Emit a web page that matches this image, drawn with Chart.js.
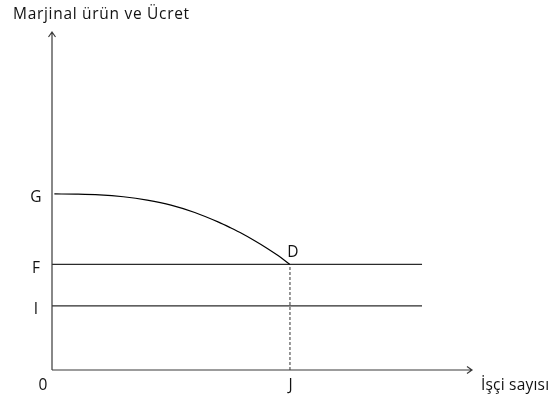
<!DOCTYPE html>
<html lang="tr">
<head>
  <meta charset="UTF-8">
  <title>Marjinal ürün ve Ücret</title>
  <script src="https://cdn.jsdelivr.net/npm/chart.js"></script>
  <style>
    html, body { margin: 0; padding: 0; background: #fff; }
    #wrap { width: 553px; height: 400px; position: relative; }
  </style>
</head>
<body>
<div id="wrap"><canvas id="chart"></canvas></div>
<script>
// marginal product curve (G -> D)
const curveX = [0.1, 1, 2, 3, 4, 5, 6, 7, 7.5, 8, 8.5, 9, 9.5, 10];
const curveY = [10.0, 9.99, 9.95, 9.84, 9.65, 9.37, 8.95, 8.40, 8.08, 7.74, 7.36, 6.95, 6.50, 6.0];

// horizontal wage lines
const levelF = 6.0;
const levelI = 3.64;
const lineEnd = 15.55;
const pointJ = 10;

const yTickValues = [10.0, levelF, levelI];
const yTickLabels = ['G', 'F', 'I'];
const xTickValues = [0, pointJ];
const xTickLabels = ['0', 'J'];

const xMax = 17.65;
const yMax = 19.2;
const yTitle = 'Marjinal ürün ve Ücret';
const xTitle = 'İşçi sayısı';

const FONT = '15.5px "Open Sans", sans-serif';

const pts = (xs, ys) => xs.map((x, i) => ({x: x, y: ys[i]}));

// axes, arrows and all the letters, placed through the chart scales
const sketchPlugin = {
  id: 'sketch',
  afterDatasetsDraw(chart) {
    const ctx = chart.ctx;
    const xs = chart.scales.x, ys = chart.scales.y;
    const x0 = xs.getPixelForValue(0), y0 = ys.getPixelForValue(0);
    const xEnd = xs.getPixelForValue(xMax), yTop = ys.getPixelForValue(yMax);
    ctx.save();
    ctx.strokeStyle = '#3a3a3a';
    ctx.lineWidth = 1.2;
    ctx.beginPath();
    ctx.moveTo(x0, y0); ctx.lineTo(x0, yTop);
    ctx.moveTo(x0, y0); ctx.lineTo(xEnd, y0);
    // open arrow heads
    ctx.moveTo(x0 - 3.5, yTop + 5); ctx.lineTo(x0, yTop); ctx.lineTo(x0 + 3.5, yTop + 5);
    ctx.moveTo(xEnd - 5, y0 - 3.5); ctx.lineTo(xEnd, y0); ctx.lineTo(xEnd - 5, y0 + 3.5);
    ctx.stroke();

    ctx.fillStyle = '#111';
    ctx.font = FONT;
    ctx.textBaseline = 'middle';
    ctx.textAlign = 'center';
    yTickValues.forEach((v, i) => {
      ctx.fillText(yTickLabels[i], x0 - 16, ys.getPixelForValue(v) + 4);
    });
    xTickValues.forEach((v, i) => {
      ctx.fillText(xTickLabels[i], xs.getPixelForValue(v) + (i === 0 ? -9 : 0.5), y0 + 16);
    });
    ctx.fillText('D', xs.getPixelForValue(pointJ) + 3, ys.getPixelForValue(levelF) - 12);

    // the original lettering is a bit wider than Open Sans
    ctx.textAlign = 'left';
    ctx.letterSpacing = '0.7px';
    ctx.fillText(yTitle, 13, yTop - 17);
    ctx.letterSpacing = '0.2px';
    ctx.fillText(xTitle, xEnd + 9, y0 + 16);
    ctx.restore();
  }
};

new Chart(document.getElementById('chart'), {
  type: 'line',
  data: {
    datasets: [
      {
        data: pts(curveX, curveY),
        borderColor: '#000',
        borderWidth: 1.2,
        cubicInterpolationMode: 'monotone',
        pointRadius: 0
      },
      {
        data: [{x: 0, y: levelF}, {x: lineEnd, y: levelF}],
        borderColor: '#2b2b2b',
        borderWidth: 1.2,
        pointRadius: 0
      },
      {
        data: [{x: 0, y: levelI}, {x: lineEnd, y: levelI}],
        borderColor: '#2b2b2b',
        borderWidth: 1.2,
        pointRadius: 0
      },
      {
        data: [{x: pointJ, y: 0}, {x: pointJ, y: levelF}],
        borderColor: '#555',
        borderWidth: 1.2,
        borderDash: [3, 2],
        pointRadius: 0
      }
    ]
  },
  options: {
    responsive: true,
    maintainAspectRatio: false,
    animation: false,
    layout: { padding: { left: 52, top: 32, right: 81, bottom: 30 } },
    plugins: { legend: { display: false }, tooltip: { enabled: false } },
    scales: {
      x: { type: 'linear', min: 0, max: xMax, display: false },
      y: { type: 'linear', min: 0, max: yMax, display: false }
    }
  },
  plugins: [sketchPlugin]
});
</script>
</body>
</html>
